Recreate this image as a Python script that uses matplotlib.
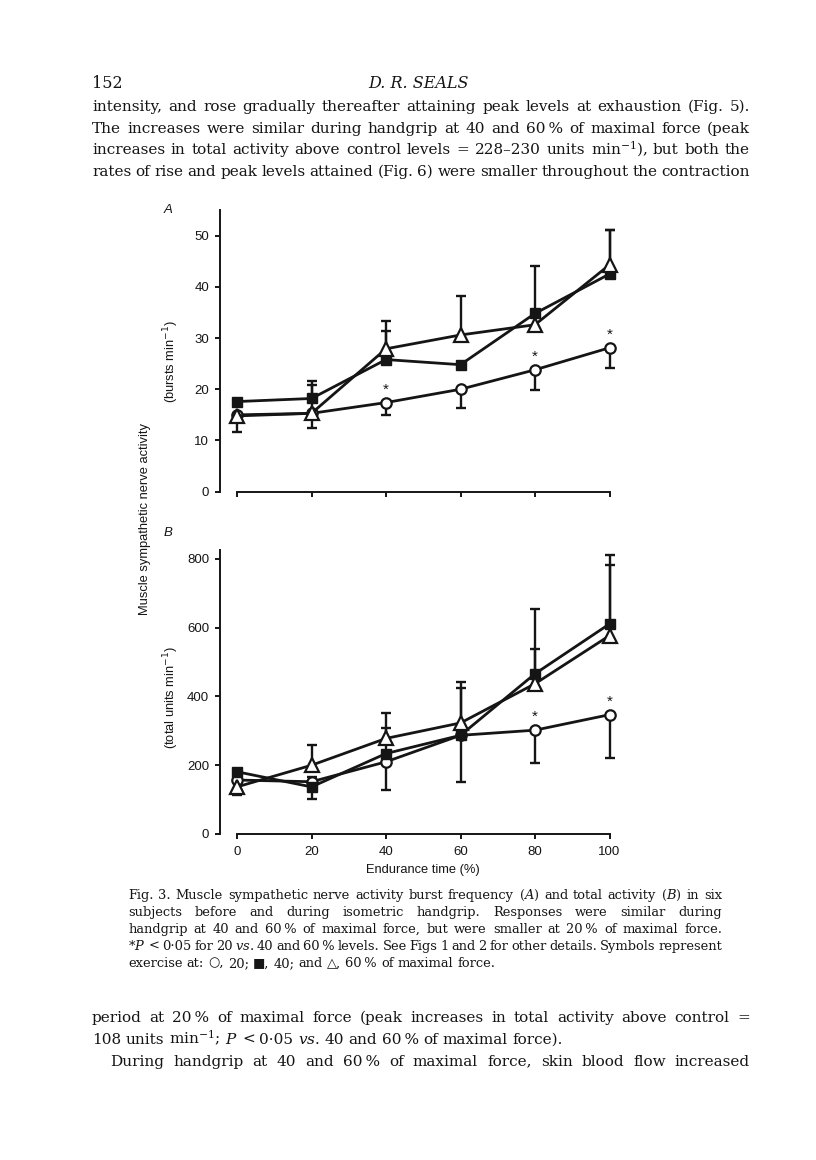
import matplotlib
matplotlib.use('Agg')
import matplotlib.pyplot as plt
from matplotlib.transforms import IdentityTransform
import numpy as np

# ---------------- data ----------------
endurance = [0, 20, 40, 60, 80, 100]
x_ticks = [0, 20, 40, 60, 80, 100]

# Panel A: burst frequency (bursts/min)
burst_20 = [15.0, 15.3, 17.4, 20.0, 23.8, 28.1]
burst_20_err = [3.4, 2.9, 2.4, 3.7, 3.9, 3.9]        # drawn downward
burst_40 = [17.6, 18.2, 25.8, 24.8, 34.8, 42.5]
burst_40_err = [0.0, 3.4, 5.5, 0.0, 9.3, 8.6]        # drawn upward
burst_60 = [14.8, 15.3, 27.9, 30.6, 32.6, 44.3]
burst_60_err = [0.0, 5.5, 5.4, 7.6, 2.9, 6.8]        # drawn upward
burst_sig = [40, 80, 100]
burst_yticks = [0, 10, 20, 30, 40, 50]

# Panel B: total activity (total units/min)
total_20 = [157, 152, 210, 287, 302, 347]
total_20_err = [44, 51, 82, 135, 95, 127]             # downward
total_40 = [181, 137, 234, 287, 466, 611]
total_40_err = [0, 29, 75, 138, 189, 201]             # upward
total_60 = [137, 200, 278, 323, 437, 577]
total_60_err = [0, 58, 75, 119, 100, 205]             # upward
total_sig = [80, 100]
total_yticks = [0, 200, 400, 600, 800]

# ---------------- figure ----------------
W, H = 816, 1160
plt.rcParams['mathtext.fontset'] = 'dejavuserif'
fig = plt.figure(figsize=(W / 100, H / 100), dpi=100)
fig.patch.set_facecolor('white')
INK = '#151515'
SANS = ['Liberation Sans', 'DejaVu Sans']
SERIF = ['DejaVu Serif', 'DejaVu Sans']


def px_axes(left, top, right, bottom):
    return fig.add_axes([left / W, 1 - bottom / H, (right - left) / W, (bottom - top) / H])


X0_PX, X100_PX = 237.0, 609.5
AX_L, AX_R = 220.0, 625.0
sc = (X100_PX - X0_PX) / 100.0
xlim = ((AX_L - X0_PX) / sc, (AX_R - X0_PX) / sc)

styles = [
    dict(marker='o', ms=7.5, mfc='white', mec=INK, mew=1.6),
    dict(marker='s', ms=7.2, mfc=INK, mec=INK, mew=1.0),
    dict(marker='^', ms=10, mfc='white', mec=INK, mew=1.6),
]


def draw_panel(ax, series, sig, yticks, ytop, show_xlabels):
    x = np.array(endurance, dtype=float)
    for (vals, errs, direction), st in zip(series, styles):
        v = np.array(vals, dtype=float)
        e = np.array(errs, dtype=float)
        m = e > 0
        ends = v - e if direction == 'down' else v + e
        ax.vlines(x[m], v[m], ends[m], colors=INK, lw=1.7, zorder=2, clip_on=False)
        ax.plot(x[m], ends[m], ls='none', marker='_', ms=7, mew=1.7, color=INK,
                zorder=2, clip_on=False)
    for (vals, errs, direction), st in zip(series, styles):
        ax.plot(x, vals, color=INK, lw=2.0, zorder=3, clip_on=False, **st)
    circ = series[0][0]
    for sx in sig:
        i = endurance.index(sx)
        ax.annotate('*', (sx, circ[i]), xytext=(0, 4.5), textcoords='offset points',
                    ha='center', va='bottom', fontsize=11, color=INK, family=SANS)
    ax.set_xlim(*xlim)
    ax.set_ylim(0, ytop)
    for s in ['top', 'right']:
        ax.spines[s].set_visible(False)
    ax.spines['left'].set_bounds(0, ytop)
    ax.spines['bottom'].set_bounds(0, 100)
    for s in ['left', 'bottom']:
        ax.spines[s].set_linewidth(1.4)
        ax.spines[s].set_color(INK)
    ax.set_xticks(x_ticks)
    ax.set_yticks(yticks)
    ax.tick_params(axis='both', direction='out', length=3.8, width=1.4, color=INK,
                   labelsize=9.5, labelcolor=INK, pad=4)
    ax.tick_params(axis='x', pad=5)
    for lab in ax.get_yticklabels() + ax.get_xticklabels():
        lab.set_family(SANS)
    if not show_xlabels:
        ax.set_xticklabels([])
    ax.patch.set_alpha(0)


axA = px_axes(AX_L, 210.0, AX_R, 491.7)
draw_panel(axA,
           [(burst_20, burst_20_err, 'down'),
            (burst_40, burst_40_err, 'up'),
            (burst_60, burst_60_err, 'up')],
           burst_sig, burst_yticks, 55.0, False)

axB = px_axes(AX_L, 550.0, AX_R, 834.0)
draw_panel(axB,
           [(total_20, total_20_err, 'down'),
            (total_40, total_40_err, 'up'),
            (total_60, total_60_err, 'up')],
           total_sig, total_yticks, 826.0, True)

ID = IdentityTransform()


def ptext(x, y, s, **kw):
    return fig.text(x, H - y, s, transform=ID, **kw)


# axis texts
ptext(168, 210, 'A', fontsize=9.5, style='italic', family=SANS, color=INK, ha='center', va='center')
ptext(168, 533, 'B', fontsize=9.5, style='italic', family=SANS, color=INK, ha='center', va='center')
ptext(171, 362, '(bursts min$^{-1}$)', fontsize=9.3, family=SANS, color=INK, rotation=90,
      ha='center', va='center', math_fontfamily='dejavusans')
ptext(171, 697, '(total units min$^{-1}$)', fontsize=9.3, family=SANS, color=INK, rotation=90,
      ha='center', va='center', math_fontfamily='dejavusans')
ptext(145, 519, 'Muscle sympathetic nerve activity', fontsize=9.3, family=SANS, color=INK,
      rotation=90, ha='center', va='center')
ptext(423, 870, 'Endurance time (%)', fontsize=9.3, family=SANS, color=INK, ha='center', va='center')

# ---------------- page text ----------------
fig.canvas.draw()
renderer = fig.canvas.get_renderer()


def text_width(s, size, **kw):
    t = fig.text(0, 0, s, fontsize=size, transform=ID, **kw)
    w = t.get_window_extent(renderer).width
    t.remove()
    return w


def fit_size(line, width, **kw):
    return 10.0 * width / text_width(line, 10.0, **kw)


def put_line(s, x0, x1, ybase, size, justify=True, **kw):
    words = s.split(' ')
    widths = [text_width(w, size, **kw) for w in words]
    if len(words) > 1:
        if justify:
            gap = (x1 - x0 - sum(widths)) / (len(words) - 1)
        else:
            gap = (text_width(s, size, **kw) - sum(widths)) / (len(words) - 1)
    else:
        gap = 0
    x = x0
    for w, wd in zip(words, widths):
        fig.text(x, H - ybase, w, fontsize=size, transform=ID, ha='left', va='baseline', **kw)
        x += wd + gap


T = '\u2009'
serif_kw = dict(family=SERIF, color=INK)

# header
ptext(92, 88, '152', fontsize=11.5, va='baseline', ha='left', **serif_kw)
ptext(419, 88, 'D. R. SEALS', fontsize=11.5, style='italic', va='baseline', ha='center', **serif_kw)

top_lines = [
    'intensity, and rose gradually thereafter attaining peak levels at exhaustion (Fig. 5).',
    'The increases were similar during handgrip at 40 and 60' + T + '% of maximal force (peak',
    'increases in total activity above control levels = 228\u2013230 units min$^{-1}$), but both the',
    'rates of rise and peak levels attained (Fig. 6) were smaller throughout the contraction',
]
body_size = fit_size(top_lines[0], 0.985 * (750 - 92), **serif_kw)
for i, ln in enumerate(top_lines):
    put_line(ln, 92, 750, 111 + 21.6 * i, body_size, True, **serif_kw)

cap_lines = [
    'Fig. 3. Muscle sympathetic nerve activity burst frequency ($\\mathit{A}$) and total activity ($\\mathit{B}$) in six',
    'subjects before and during isometric handgrip. Responses were similar during',
    'handgrip at 40 and 60' + T + '% of maximal force, but were smaller at 20' + T + '% of maximal force.',
    '*$P$ < 0\u00b705 for 20 $\\mathit{vs}$. 40 and 60' + T + '% levels. See Figs 1 and 2 for other details. Symbols represent',
    'exercise at: \u25cb, 20; \u25a0, 40; and \u25b3, 60' + T + '% of maximal force.',
]
cap_size = fit_size(cap_lines[0], 0.985 * (722 - 128), **serif_kw)
for i, ln in enumerate(cap_lines):
    put_line(ln, 128, 722, 899 + 17.0 * i, cap_size, i < len(cap_lines) - 1, **serif_kw)

bot_lines = [
    ('period at 20' + T + '% of maximal force (peak increases in total activity above control =', 92, True),
    ('108 units min$^{-1}$; $P$ < 0\u00b705 $\\mathit{vs}$. 40 and 60' + T + '% of maximal force).', 92, False),
    ('During handgrip at 40 and 60' + T + '% of maximal force, skin blood flow increased', 110, True),
]
for i, (ln, x0, j) in enumerate(bot_lines):
    put_line(ln, x0, 750, 1022 + 21.8 * i, body_size, j, **serif_kw)

fig.savefig('out.png', dpi=100, facecolor='white')
